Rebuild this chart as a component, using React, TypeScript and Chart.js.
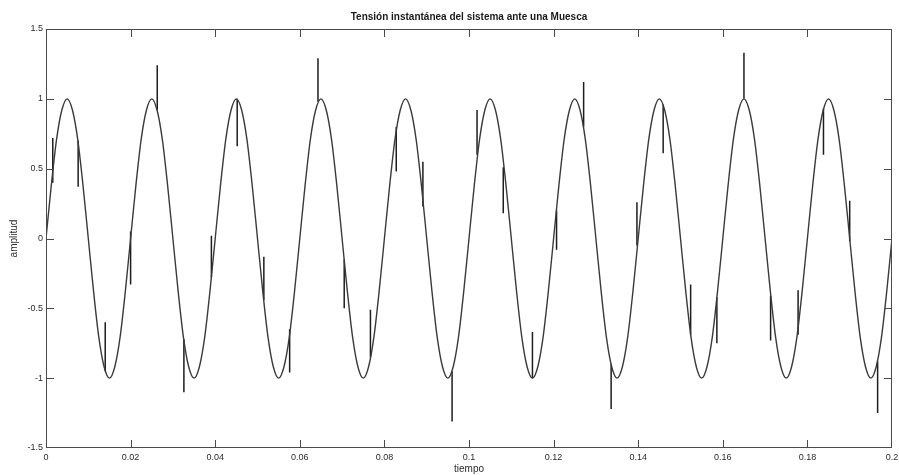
import React, { useEffect, useRef } from "react";
import { Chart, registerables } from "chart.js";

Chart.register(...registerables);

// Voltage trace sampled every 1.25 ms (16 samples per 50 Hz cycle), per unit
const sampleStep = 0.00125;
const amplitud = [
  0, 0.38, 0.71, 0.92, 1, 0.92, 0.71, 0.38, 0, -0.38, -0.71, -0.92, -1, -0.92, -0.71, -0.38,
  0, 0.38, 0.71, 0.92, 1, 0.92, 0.71, 0.38, 0, -0.38, -0.71, -0.92, -1, -0.92, -0.71, -0.38,
  0, 0.38, 0.71, 0.92, 1, 0.92, 0.71, 0.38, 0, -0.38, -0.71, -0.92, -1, -0.92, -0.71, -0.38,
  0, 0.38, 0.71, 0.92, 1, 0.92, 0.71, 0.38, 0, -0.38, -0.71, -0.92, -1, -0.92, -0.71, -0.38,
  0, 0.38, 0.71, 0.92, 1, 0.92, 0.71, 0.38, 0, -0.38, -0.71, -0.92, -1, -0.92, -0.71, -0.38,
  0, 0.38, 0.71, 0.92, 1, 0.92, 0.71, 0.38, 0, -0.38, -0.71, -0.92, -1, -0.92, -0.71, -0.38,
  0, 0.38, 0.71, 0.92, 1, 0.92, 0.71, 0.38, 0, -0.38, -0.71, -0.92, -1, -0.92, -0.71, -0.38,
  0, 0.38, 0.71, 0.92, 1, 0.92, 0.71, 0.38, 0, -0.38, -0.71, -0.92, -1, -0.92, -0.71, -0.38,
  0, 0.38, 0.71, 0.92, 1, 0.92, 0.71, 0.38, 0, -0.38, -0.71, -0.92, -1, -0.92, -0.71, -0.38,
  0, 0.38, 0.71, 0.92, 1, 0.92, 0.71, 0.38, 0, -0.38, -0.71, -0.92, -1, -0.92, -0.71, -0.38,
  0,
];
const tiempo = amplitud.map((_, i) => +(i * sampleStep).toFixed(5));

// Notch transients: instant and the vertical extent of each spike
const spikeTime = [
  0.0016, 0.0076, 0.014, 0.02, 0.0263, 0.0326, 0.0391, 0.0452, 0.0515, 0.0576,
  0.0643, 0.0705, 0.0767, 0.0828, 0.0891, 0.096, 0.1019, 0.1081, 0.115, 0.1207,
  0.1271, 0.1336, 0.1397, 0.1459, 0.1524, 0.1586, 0.165, 0.1713, 0.1778, 0.1838,
  0.19, 0.1966,
];
const spikeLow = [
  0.4, 0.37, -0.95, -0.33, 0.92, -1.1, -0.28, 0.66, -0.44, -0.96,
  0.98, -0.5, -0.85, 0.48, 0.23, -1.31, 0.6, 0.18, -1.0, -0.08,
  0.8, -1.22, -0.05, 0.61, -0.69, -0.75, 1.0, -0.73, -0.69, 0.6,
  -0.02, -1.25,
];
const spikeHigh = [
  0.72, 0.7, -0.6, 0.05, 1.24, -0.72, 0.02, 1.0, -0.13, -0.65,
  1.29, -0.15, -0.51, 0.8, 0.55, -0.95, 0.92, 0.51, -0.67, 0.2,
  1.12, -0.9, 0.26, 0.96, -0.33, -0.42, 1.33, -0.41, -0.37, 0.93,
  0.27, -0.88,
];

const xTicks = [0, 0.02, 0.04, 0.06, 0.08, 0.1, 0.12, 0.14, 0.16, 0.18, 0.2];
const yTicks = [-1.5, -1, -0.5, 0, 0.5, 1, 1.5];

const titleText = "Tensión instantánea del sistema ante una Muesca";
const xTitle = "tiempo";
const yTitle = "amplitud";

const fontFamily = "'Liberation Sans', Arial, sans-serif";
const ink = "#2b2b2b";

// Box around the plot area with inward tick marks on all four sides
const frameAndTicks = {
  id: "frameAndTicks",
  afterDraw(chart: any) {
    const { ctx, chartArea: a, scales } = chart;
    const len = 8;
    ctx.save();
    ctx.strokeStyle = "#4a4a4a";
    ctx.lineWidth = 1;
    ctx.beginPath();
    ctx.rect(a.left + 0.5, a.top + 0.5, a.right - a.left - 1, a.bottom - a.top - 1);
    for (const v of xTicks) {
      const px = Math.min(Math.round(scales.x.getPixelForValue(v)), a.right - 1) + 0.5;
      ctx.moveTo(px, a.bottom);
      ctx.lineTo(px, a.bottom - len);
      ctx.moveTo(px, a.top);
      ctx.lineTo(px, a.top + len);
    }
    for (const v of yTicks) {
      const py = Math.min(Math.round(scales.y.getPixelForValue(v)), a.bottom - 1) + 0.5;
      ctx.moveTo(a.left, py);
      ctx.lineTo(a.left + len, py);
      ctx.moveTo(a.right, py);
      ctx.lineTo(a.right - len, py);
    }
    ctx.stroke();
    ctx.restore();
  },
};

function formatTick(v: number) {
  return String(Number(Number(v).toFixed(2)));
}

export default function App() {
  const canvasRef = useRef<HTMLCanvasElement | null>(null);

  useEffect(() => {
    const canvas = canvasRef.current;
    if (!canvas) return;

    const curve = tiempo.map((t, i) => ({ x: t, y: amplitud[i] }));
    const spikes: { x: number; y: number | null }[] = [];
    spikeTime.forEach((t, i) => {
      spikes.push({ x: t, y: spikeLow[i] });
      spikes.push({ x: t, y: spikeHigh[i] });
      spikes.push({ x: t, y: null });
    });

    const chart = new Chart(canvas, {
      type: "line",
      data: {
        datasets: [
          {
            data: curve,
            borderColor: "#3a3a3a",
            borderWidth: 1.4,
            pointRadius: 0,
            tension: 0.4,
            cubicInterpolationMode: "monotone",
          },
          {
            data: spikes as any,
            borderColor: "#1e1e1e",
            borderWidth: 1.5,
            pointRadius: 0,
            tension: 0,
            spanGaps: false,
          },
        ],
      },
      options: {
        responsive: false,
        animation: false,
        parsing: true,
        layout: { padding: { left: 0, right: 7, top: 0, bottom: 0 } },
        plugins: {
          legend: { display: false },
          tooltip: { enabled: false },
          title: {
            display: true,
            text: titleText,
            fullSize: false,
            color: "#1a1a1a",
            font: { family: fontFamily, size: 10, weight: "bold" },
            padding: { top: 11, bottom: 6 },
          },
        },
        scales: {
          x: {
            type: "linear",
            min: 0,
            max: 0.2,
            afterBuildTicks: (s: any) => {
              s.ticks = xTicks.map((v) => ({ value: v }));
            },
            afterFit: (s: any) => {
              s.height = 27;
              s.paddingRight = 0;
              s.paddingLeft = 0;
            },
            ticks: {
              autoSkip: false,
              maxRotation: 0,
              padding: 4,
              color: ink,
              font: { family: fontFamily, size: 9 },
              callback: (v: any) => formatTick(v),
            },
            grid: { display: false, drawTicks: false },
            border: { display: false },
            title: {
              display: true,
              text: xTitle,
              color: ink,
              font: { family: fontFamily, size: 10 },
              padding: { top: 0, bottom: 0 },
            },
          },
          y: {
            type: "linear",
            min: -1.5,
            max: 1.5,
            afterBuildTicks: (s: any) => {
              s.ticks = yTicks.map((v) => ({ value: v }));
            },
            afterFit: (s: any) => {
              s.width = 46;
            },
            ticks: {
              padding: 3,
              color: ink,
              font: { family: fontFamily, size: 9 },
              callback: (v: any) => formatTick(v),
            },
            grid: { display: false, drawTicks: false },
            border: { display: false },
            title: {
              display: true,
              text: yTitle,
              color: ink,
              font: { family: fontFamily, size: 10 },
              padding: { top: 8, bottom: 0 },
            },
          },
        },
      },
      plugins: [frameAndTicks],
    });

    return () => chart.destroy();
  }, []);

  return (
    <div
      style={{
        position: "absolute",
        left: 0,
        top: 0,
        width: 899,
        height: 475,
        background: "#ffffff",
      }}
    >
      <canvas ref={canvasRef} width={899} height={475} />
    </div>
  );
}
